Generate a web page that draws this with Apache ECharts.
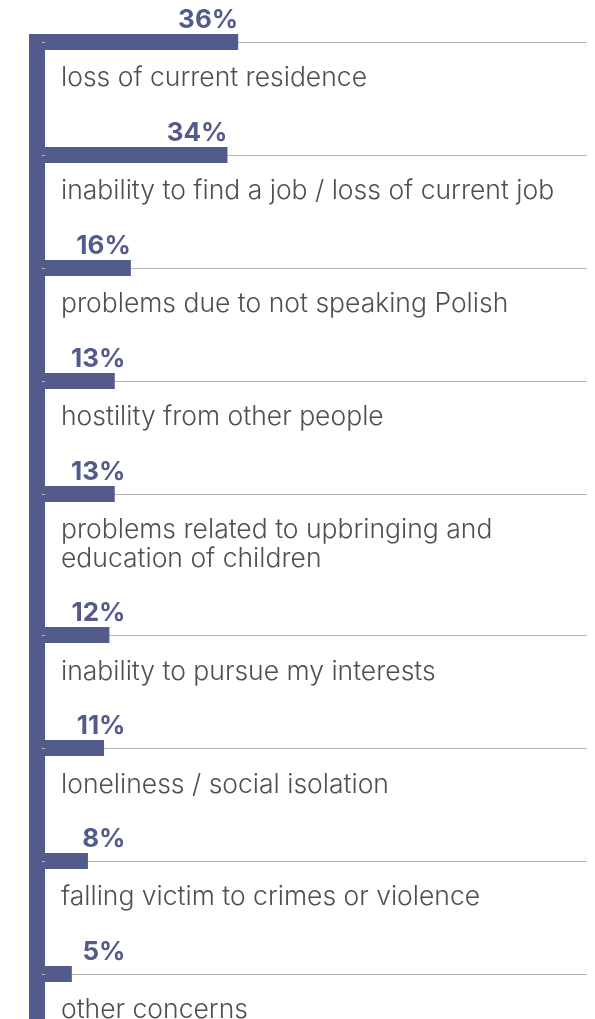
<!DOCTYPE html>
<html>
<head>
<meta charset="utf-8">
<script src="https://cdn.jsdelivr.net/npm/echarts@6/dist/echarts.min.js"></script>
<style>
html,body{margin:0;padding:0;background:#fff;}
#chart{width:595px;height:1019px;}
</style>
</head>
<body>
<div id="chart"></div>
<script>
const categories = [
  'loss of current residence',
  'inability to find a job / loss of current job',
  'problems due to not speaking Polish',
  'hostility from other people',
  'problems related to upbringing and\neducation of children',
  'inability to pursue my interests',
  'loneliness / social isolation',
  'falling victim to crimes or violence',
  'other concerns'
];
const values = [36, 34, 16, 13, 13, 12, 11, 8, 5];
const valueLabels = ['36%', '34%', '16%', '13%', '13%', '12%', '11%', '8%', '5%'];

const BAR_COLOR = '#535b8c';
const TEXT_COLOR = '#4f4f4f';
const LINE_COLOR = '#b4b4b4';
const MIN_LABEL_VALUE = 15; // short bars: value labels right-aligned at this value

// Build axis slots: each item takes 4 slot rows plus one per extra label line
const slotCats = [];
const slotData = [];
categories.forEach((c, i) => {
  slotCats.push(c);
  const v = values[i];
  const xPos = v < MIN_LABEL_VALUE ? (MIN_LABEL_VALUE / v * 100) + '%' : '100%';
  slotData.push({
    value: v,
    label: { position: [xPos, -1], formatter: valueLabels[i] }
  });
  if (i < categories.length - 1) {
    const extra = 3 + (c.split('\n').length - 1);
    for (let k = 0; k < extra; k++) {
      slotCats.push('gap_' + i + '_' + k);
      slotData.push(null);
    }
  }
});
const isReal = (name) => categories.indexOf(name) >= 0;

const chart = echarts.init(document.getElementById('chart'), null, { renderer: 'canvas' });
chart.setOption({
  animation: false,
  backgroundColor: '#ffffff',
  grid: { left: 45, right: 8, top: 42, bottom: 45, containLabel: false, outerBoundsMode: 'none' },
  xAxis: {
    type: 'value', min: 0, max: 101, show: false
  },
  yAxis: {
    type: 'category',
    inverse: true,
    boundaryGap: false,
    data: slotCats,
    axisLine: { show: false },
    axisTick: {
      show: true, length: 3, inside: false,
      interval: (idx, name) => isReal(name),
      lineStyle: { color: LINE_COLOR, width: 1 }
    },
    splitLine: {
      show: true,
      interval: (idx, name) => isReal(name),
      lineStyle: { color: LINE_COLOR, width: 1 }
    },
    axisLabel: {
      show: true,
      inside: true,
      interval: 0,
      margin: 16,
      align: 'left',
      verticalAlign: 'top',
      padding: [22, 0, 0, 0],
      lineHeight: 29,
      fontFamily: 'Inter',
      fontWeight: 300,
      fontSize: 26.5,
      color: TEXT_COLOR,
      formatter: (name) => isReal(name) ? name : ''
    }
  },
  graphic: [{
    type: 'rect',
    z: -10,
    shape: { x: 29, y: 34, width: 16, height: 985 },
    style: { fill: BAR_COLOR }
  }],
  series: [{
    type: 'bar',
    barWidth: 16,
    data: slotData,
    itemStyle: { color: BAR_COLOR },
    label: {
      show: true,
      align: 'right',
      verticalAlign: 'bottom',
      fontFamily: 'Inter',
      fontWeight: 'bold',
      fontSize: 26,
      lineHeight: 26,
      color: BAR_COLOR
    }
  }]
});
</script>
</body>
</html>
